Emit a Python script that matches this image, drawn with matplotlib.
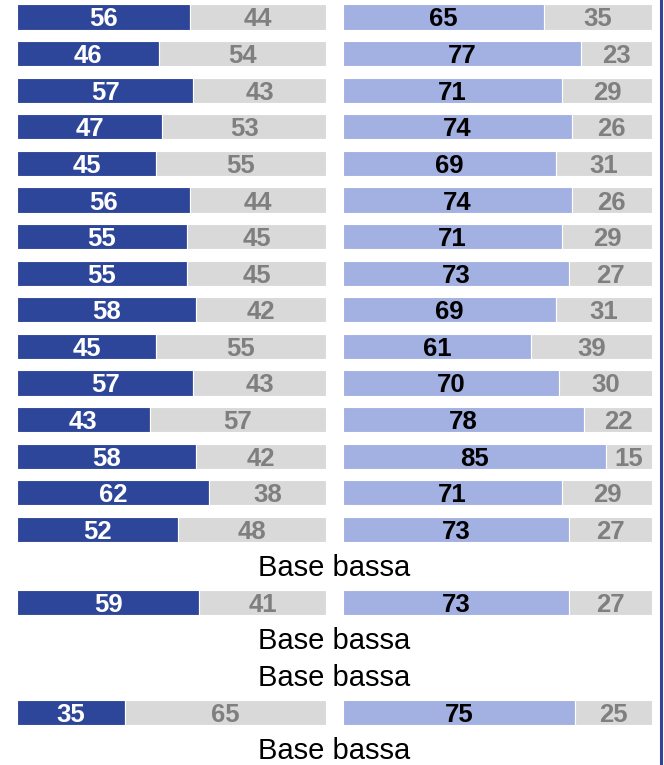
import numpy as np
import matplotlib.pyplot as plt
from matplotlib.lines import Line2D

plt.rcParams['font.family'] = ['Liberation Sans', 'DejaVu Sans']

# valori per riga (None = Base bassa)
sx = [56, 46, 57, 47, 45, 56, 55, 55, 58, 45, 57, 43, 58, 62, 52,
      None, 59, None, None, 35, None]
dx = [65, 77, 71, 74, 69, 74, 71, 73, 69, 61, 70, 78, 85, 71, 73,
      None, 73, None, None, 75, None]
nota = 'Base bassa'

blu = '#2E4699'
azzurro = '#A2B0E2'
grigio = '#D9D9D9'
grigio_txt = '#7F7F7F'

W, H = 664, 765
fig = plt.figure(figsize=(W / 100, H / 100), dpi=100)

n = len(sx)
passo = 36.6
y0 = 17
top_px = y0 - passo / 2
bot_px = y0 + passo * (n - 1) + passo / 2

def pannello(x_px, valori, colore, col_txt):
    ax = fig.add_axes([x_px / W, 1 - bot_px / H, 309 / W, (bot_px - top_px) / H])
    ax.set_xlim(0, 100)
    ax.set_ylim(n - 0.5, -0.5)
    ax.axis('off')
    for i, v in enumerate(valori):
        if v is None:
            continue
        ax.barh(i, v, height=0.69, color=colore, edgecolor='white', linewidth=0.8)
        ax.barh(i, 100 - v, left=v, height=0.69, color=grigio, edgecolor='white', linewidth=0.8)
        ax.text(v / 2, i, str(v), ha='center', va='center_baseline', fontsize=18.5,
                fontweight='bold', color=col_txt)
        ax.text(v + (100 - v) / 2, i, str(100 - v), ha='center', va='center_baseline',
                fontsize=18.5, fontweight='bold', color=grigio_txt)
    return ax

ax1 = pannello(17, sx, blu, 'white')
ax2 = pannello(343, dx, azzurro, 'black')

# testo "Base bassa" centrato tra i due pannelli
for i, v in enumerate(sx):
    if v is None:
        y = 1 - (y0 + passo * i - 1) / H
        fig.text(334 / W, y, nota, ha='center', va='center_baseline', fontsize=21, color='black')

fig.add_artist(Line2D([661 / W, 661 / W], [0, 1], color=blu, linewidth=2.2,
                      transform=fig.transFigure))

fig.savefig('out.png', dpi=100)
